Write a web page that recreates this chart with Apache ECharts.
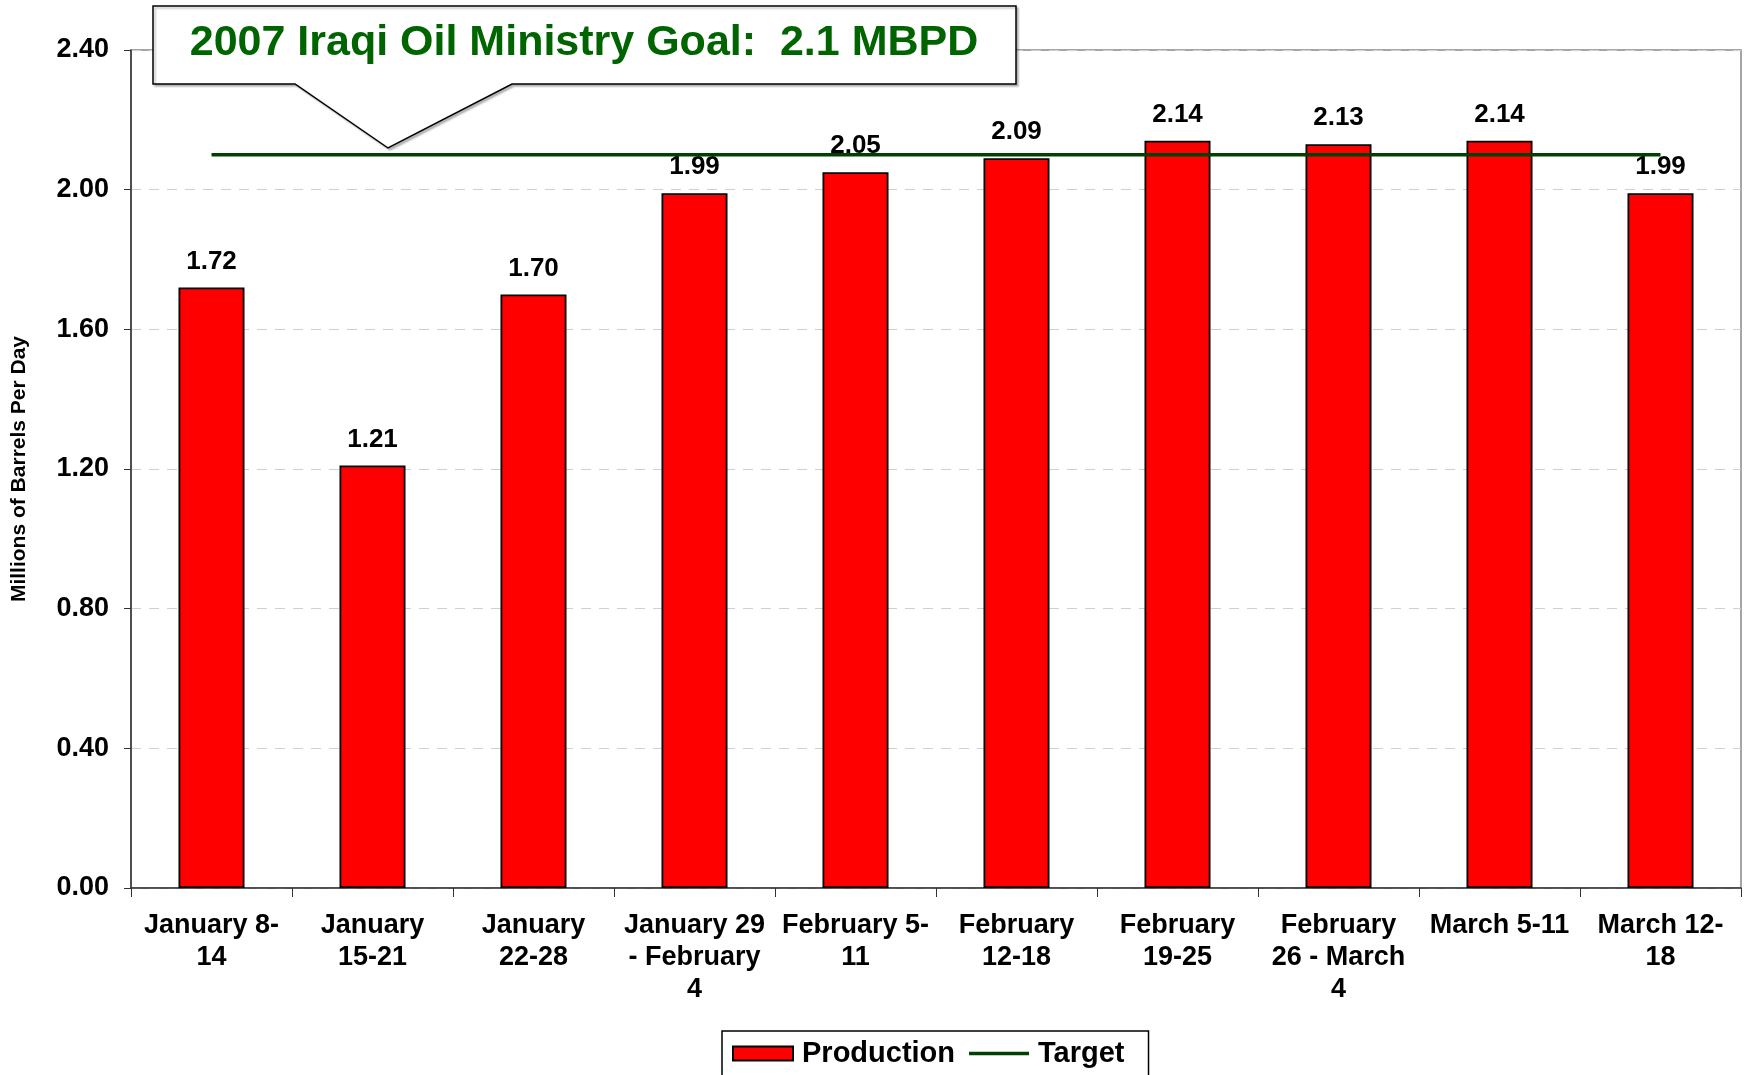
<!DOCTYPE html>
<html>
<head>
<meta charset="utf-8">
<script src="https://cdn.jsdelivr.net/npm/echarts@6/dist/echarts.min.js"></script>
<style>
html,body{margin:0;padding:0;background:#fff;}
#chart{width:1747px;height:1075px;}
</style>
</head>
<body>
<div id="chart"></div>
<script>
const categories = [
  "January 8-\n14",
  "January\n15-21",
  "January\n22-28",
  "January 29\n- February\n4",
  "February 5-\n11",
  "February\n12-18",
  "February\n19-25",
  "February\n26 - March\n4",
  "March 5-11",
  "March 12-\n18"
];
const production = [1.72, 1.21, 1.70, 1.99, 2.05, 2.09, 2.14, 2.13, 2.14, 1.99];
const target = [2.1, 2.1, 2.1, 2.1, 2.1, 2.1, 2.1, 2.1, 2.1, 2.1];
const yTicks = { min: 0, max: 2.4, interval: 0.4 };
const calloutText = "2007 Iraqi Oil Ministry Goal:  2.1 MBPD";
const yAxisTitle = "Millions of Barrels Per Day";

const FONT = '"Liberation Sans", Arial, sans-serif';
const chart = echarts.init(document.getElementById('chart'));
chart.setOption({
  animation: false,
  backgroundColor: '#ffffff',
  textStyle: { fontFamily: FONT },
  grid: { left: 131, right: 6, top: 50, bottom: 187, show: true, borderColor: '#888', borderWidth: 1.5 },
  legend: {
    top: 1031,
    left: 722,
    padding: [8, 24, 30, 10],
    borderColor: '#000',
    borderWidth: 1.5,
    itemGap: 14,
    itemWidth: 60,
    itemHeight: 14,
    textStyle: { fontFamily: FONT, fontWeight: 'bold', fontSize: 29, color: '#000', padding: [0, 0, 0, 4] },
    data: [
      { name: 'Production', icon: 'rect' },
      { name: 'Target', icon: 'path://M0,0H64V3.5H0Z' }
    ]
  },
  xAxis: {
    type: 'category',
    data: categories,
    axisLine: { lineStyle: { color: '#333', width: 1.5 } },
    axisTick: { show: true, length: 9, lineStyle: { color: '#333' } },
    axisLabel: { fontFamily: FONT, fontWeight: 'bold', fontSize: 27, color: '#000', lineHeight: 32, margin: 22, interval: 0 }
  },
  yAxis: {
    type: 'value',
    min: yTicks.min, max: yTicks.max, interval: yTicks.interval,
    name: yAxisTitle,
    nameLocation: 'middle',
    nameRotate: 90,
    nameGap: 101,
    nameTextStyle: { fontFamily: FONT, fontWeight: 'bold', fontSize: 21, color: '#000' },
    axisLine: { show: true, lineStyle: { color: '#333', width: 1.5 } },
    axisTick: { show: true, length: 7, lineStyle: { color: '#333' } },
    axisLabel: { fontFamily: FONT, fontWeight: 'bold', fontSize: 27, color: '#000', margin: 22, formatter: v => v.toFixed(2) },
    splitLine: { show: true, lineStyle: { color: '#d0d0d0', type: [10, 8], width: 1.2 } }
  },
  series: [
    {
      name: 'Production',
      type: 'bar',
      data: production,
      barWidth: '41%',
      itemStyle: { color: '#ff0000', borderColor: '#000', borderWidth: 1.8 },
      label: { show: true, position: 'top', distance: 13, fontFamily: FONT, fontWeight: 'bold', fontSize: 26, color: '#000', formatter: p => p.value.toFixed(2) }
    },
    {
      name: 'Target',
      type: 'line',
      data: target,
      symbol: 'none',
      lineStyle: { color: '#004000', width: 3.5 },
      itemStyle: { color: '#004000' },
      z: 5
    }
  ],
  graphic: [
    {
      type: 'polygon',
      z: 100,
      shape: { points: [[153,6],[1016,6],[1016,84],[512,84],[388,148],[295,84],[153,84]] },
      style: { fill: '#fff', stroke: '#000', lineWidth: 1.5, shadowColor: 'rgba(0,0,0,0.25)', shadowOffsetX: 2, shadowOffsetY: 2, shadowBlur: 2 }
    },
    {
      type: 'text',
      z: 101,
      x: 584, y: 43,
      style: { text: calloutText, fill: '#006400', font: 'bold 43px ' + FONT, textAlign: 'center', textVerticalAlign: 'middle' }
    }
  ]
});
</script>
</body>
</html>
